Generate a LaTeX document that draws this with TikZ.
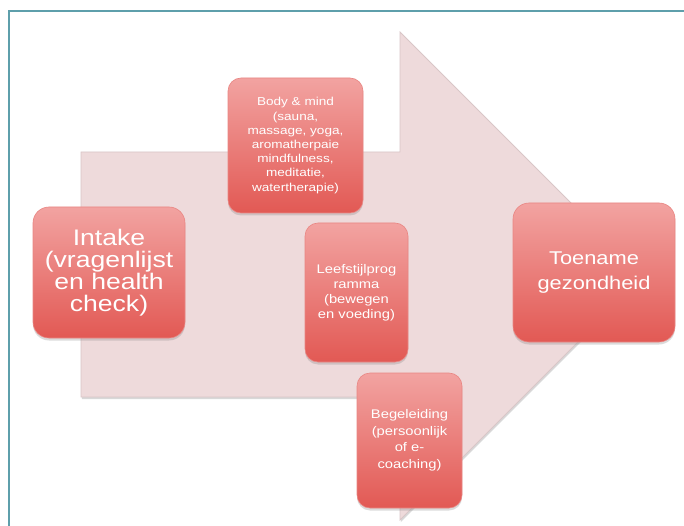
\documentclass[tikz,border=0pt]{standalone}
\usepackage{fontspec}
\newfontfamily\boxfont{Liberation Sans}[FakeStretch=1.18]
\usetikzlibrary{shadows}
\definecolor{frameteal}{HTML}{5E9FAB}
\definecolor{arrowfill}{HTML}{EEDADB}
\definecolor{arrowedge}{HTML}{D9C6C7}
\definecolor{boxtop}{HTML}{F2A3A1}
\definecolor{boxbottom}{HTML}{E25954}
\definecolor{boxedge}{HTML}{E98683}
\tikzset{
  stagebox/.style={
    rounded corners=13pt, draw=boxedge, line width=0.6pt,
    top color=boxtop, bottom color=boxbottom,
    drop shadow={shadow xshift=0pt, shadow yshift=-2.5pt, opacity=.28},
    text=white, align=center, inner sep=3pt
  },
  bigbox/.style={stagebox, rounded corners=16pt},
  flowarrow/.style={fill=arrowfill, draw=arrowedge, line width=0.8pt,
    drop shadow={shadow xshift=0.8pt, shadow yshift=-2pt, opacity=.30}}
}
\begin{document}
\begin{tikzpicture}[x=1pt,y=-1pt]
  \useasboundingbox (0,0) rectangle (684,526);
  \fill[white] (0,0) rectangle (684,526);

  % outer frame, running off the right and bottom edges
  \draw[frameteal, line width=2pt] (9,560) -- (9,11) -- (720,11);

  % the large process arrow
  \draw[flowarrow] (81,152) -- (400,152) -- (400,32) -- (644,276)
    -- (400,520) -- (400,397) -- (81,397) -- cycle;

  % stages
  \node[bigbox, minimum width=152pt, minimum height=131pt,
        font={\boxfont\fontsize{22.5}{22}\selectfont}] (intake) at (109,272.5)
    {Intake\\(vragenlijst\\en health\\check)};

  \node[stagebox, minimum width=135pt, minimum height=135pt,
        font={\boxfont\fontsize{11.5}{14.2}\selectfont}] (body) at (295.5,145.5)
    {Body \& mind\\(sauna,\\massage, yoga,\\aromatherpaie\\mindfulness,\\meditatie,\\watertherapie)};

  \node[stagebox, minimum width=103pt, minimum height=139pt,
        font={\boxfont\fontsize{12.5}{15}\selectfont}] (leefstijl) at (356.5,292.5)
    {Leefstijlprog\\ramma\\(bewegen\\en voeding)};

  \node[stagebox, minimum width=105pt, minimum height=135pt,
        font={\boxfont\fontsize{12.5}{16.5}\selectfont}] (begeleiding) at (409.5,440.5)
    {Begeleiding\\(persoonlijk\\of e-\\coaching)};

  \node[bigbox, minimum width=162pt, minimum height=139pt,
        font={\boxfont\fontsize{18.5}{25.5}\selectfont}] (toename) at (594,272.5)
    {Toename\\gezondheid};
\end{tikzpicture}
\end{document}
